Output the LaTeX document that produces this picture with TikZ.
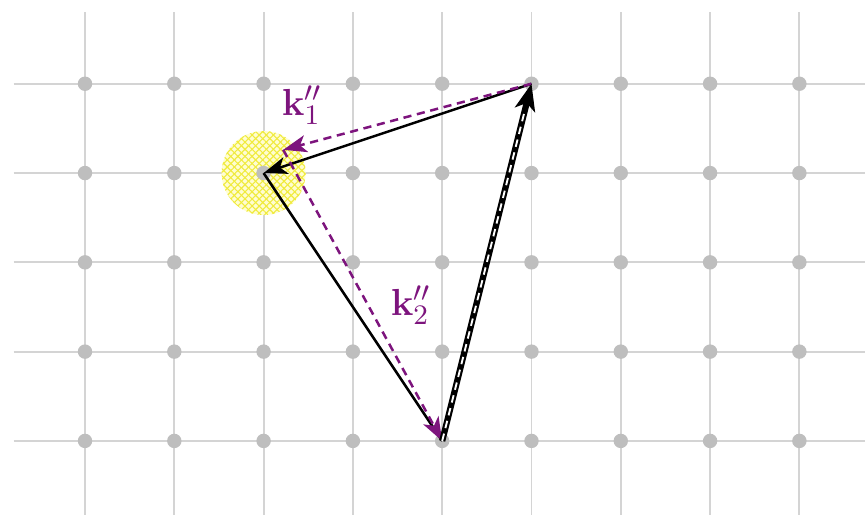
\documentclass[tikz,border=0pt]{standalone}
\usetikzlibrary{arrows.meta,patterns.meta}
\definecolor{gridgray}{RGB}{212,212,212}
\definecolor{dotgray}{RGB}{190,190,190}
\definecolor{kpurple}{RGB}{125,20,125}
\definecolor{hatchyellow}{RGB}{240,235,60}
\tikzset{
  gridline/.style={draw=gridgray, line width=0.6pt},
  latticept/.style={circle, fill=dotgray, inner sep=0pt, minimum size=4.6pt},
  blackvec/.style={draw=black, line width=0.8pt},
  purplevec/.style={draw=kpurple, line width=0.8pt, dash pattern=on 2.6pt off 1.8pt},
  tipbig/.style={-{Stealth[length=7.5pt,width=5.5pt,inset=2pt]}},
  lbl/.style={text=kpurple, font=\fontsize{13}{15}\selectfont},
}
\begin{document}
\begin{tikzpicture}[x=1cm,y=1cm]
\useasboundingbox (-0.952,-0.829) rectangle (8.735,4.938);
\clip (-0.952,-0.829) rectangle (8.735,4.938);
% grid
\foreach \i in {0,...,8} \draw[gridline] (\i,-0.9) -- (\i,4.8);
\foreach \j in {0,...,4} \draw[gridline] (-0.8,\j) -- (8.9,\j);
% yellow region
\fill[yellow!18] (2,3) circle (0.47);
\fill[pattern={Lines[angle=45,distance=1.6pt,line width=0.35pt]}, pattern color=hatchyellow] (2,3) circle (0.47);
\fill[pattern={Lines[angle=-45,distance=1.6pt,line width=0.35pt]}, pattern color=hatchyellow] (2,3) circle (0.47);
% lattice points
\foreach \i in {0,...,8} \foreach \j in {0,...,4} \node[latticept] (p\i\j) at (\i,\j) {};
% coordinates
\coordinate (A) at (5,4);
\coordinate (O) at (2,3);
\coordinate (B) at (4,0);
\coordinate (P) at (2.22,3.26);
% black vectors
\draw[blackvec, tipbig] (A) -- (O);
\draw[blackvec] (O) -- (B);
% purple dashed vectors
\draw[purplevec, tipbig] (A) -- (P);
\draw[purplevec, tipbig] (P) -- (B);
% thick black-white dashed vector
\draw[draw=black, line width=2pt, -{Stealth[length=8.5pt,width=6.5pt,inset=2.2pt]}] (B) -- (A);
\draw[draw=white, line width=0.6pt, dash pattern=on 2.4pt off 1.8pt, shorten >=9pt] (B) -- (A);
% labels
\node[lbl] (k1) at (2.43,3.76) {$\mathbf{k}_1''$};
\node[lbl] (k2) at (3.65,1.52) {$\mathbf{k}_2''$};
\end{tikzpicture}
\end{document}
